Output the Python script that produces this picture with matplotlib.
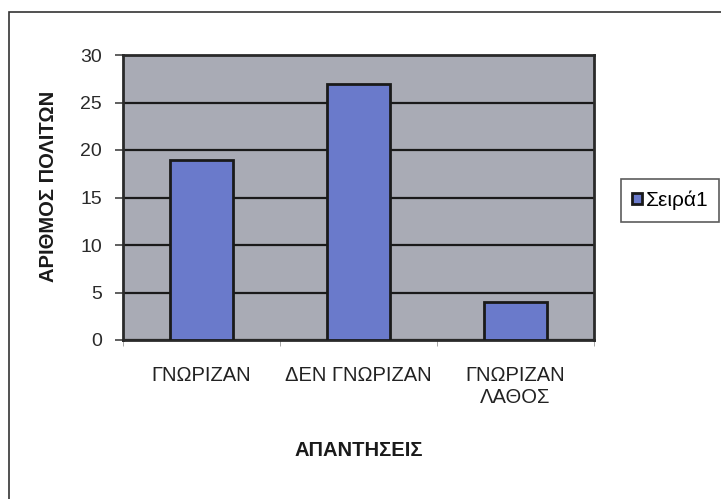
import matplotlib.pyplot as plt
from matplotlib.patches import Rectangle
from matplotlib.ticker import MultipleLocator, FixedLocator

# DONNEES
categories = ["ΓΝΩΡΙΖΑΝ", "ΔΕΝ ΓΝΩΡΙΖΑΝ", "ΓΝΩΡΙΖΑΝ\nΛΑΘΟΣ"]
values = [19, 27, 4]
series_name = "Σειρά1"

plt.rcParams['font.family'] = ['Liberation Sans', 'DejaVu Sans']

W, H = 721, 499
fig = plt.figure(figsize=(W / 100, H / 100), dpi=100)
fig.patch.set_facecolor("white")

# CADRE EXTERIEUR
fig.patches.append(Rectangle((9 / W, -0.01), 1.0, 1 - 12 / H + 0.01,
                             transform=fig.transFigure, fill=False,
                             edgecolor="#333333", linewidth=1.2))

ax = fig.add_axes([123 / W, 1 - 340 / H, 471 / W, 285 / H])
ax.set_facecolor("#a9abb5")

x = range(len(categories))
ax.bar(x, values, width=0.40, color="#6a7acb", edgecolor="#1a1a1a",
       linewidth=2, zorder=3, label=series_name)

# GRILLE
ax.set_ylim(0, 30)
ax.set_xlim(-0.5, len(categories) - 0.5)
ax.yaxis.set_major_locator(MultipleLocator(5))
ax.yaxis.grid(True, color="#1a1a1a", linewidth=1.6, zorder=1)
ax.set_axisbelow(True)

for s in ax.spines.values():
    s.set_linewidth(2)
    s.set_color("#2a2a2a")

# TICKS
ax.set_xticks(list(x))
ax.set_xticklabels(categories, fontsize=14.5, color="#222222", linespacing=1.15)
ax.xaxis.set_minor_locator(FixedLocator([-0.5, 0.5, 1.5, 2.5]))
ax.tick_params(axis="x", which="major", length=0, pad=19)
ax.tick_params(axis="x", which="minor", length=4, color="#999999")
ax.tick_params(axis="y", length=6, width=1.2, labelsize=14, labelcolor="#2a2a2a",
               color="#444444", pad=9)

ax.set_xlabel("ΑΠΑΝΤΗΣΕΙΣ", fontsize=14.5, fontweight="bold", color="#1a1a1a")
ax.xaxis.set_label_coords(0.5, -0.355)
ax.set_ylabel("ΑΡΙΘΜΟΣ ΠΟΛΙΤΩΝ", fontsize=14.5, fontweight="bold", color="#1a1a1a")
ax.yaxis.set_label_coords(-0.137, 0.54)

# LEGENDE
x0 = (621 - 123) / 471
w = (719 - 621) / 471
leg = ax.legend(loc="center", bbox_to_anchor=(x0, 0.41, w, 0.16), mode="expand",
                fontsize=15, frameon=True, fancybox=False, handlelength=0.45,
                handleheight=0.45, handletextpad=0.2, borderpad=0.55,
                borderaxespad=0)
leg.get_frame().set_edgecolor("#333333")
leg.get_frame().set_linewidth(1.2)

fig.savefig("out.png", dpi=100)
